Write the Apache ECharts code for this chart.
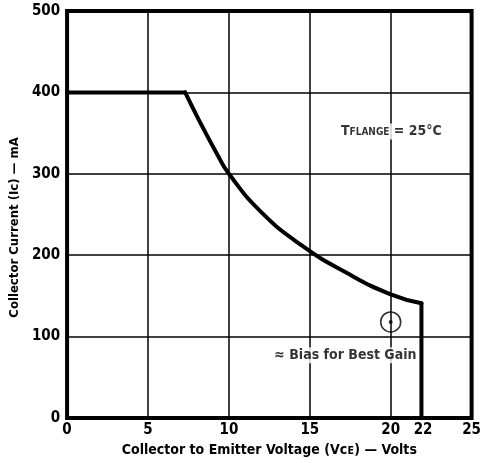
<!DOCTYPE html>
<html><head><meta charset="utf-8">
<script src="https://cdn.jsdelivr.net/npm/echarts@6/dist/echarts.min.js"></script>
<style>html,body{margin:0;padding:0;background:#fff}#c{width:484px;height:463px}</style>
</head><body><div id="c"></div>
<script>
// flat current limit, power-limited curve, voltage limit
const flatV = [0, 7.3];
const flatI = [400, 400];
const curveV = [7.3, 8.15, 9.25, 10, 12, 14.5, 17.3, 20, 21.9];
const curveI = [400, 366, 325, 300, 253, 212, 178, 152, 141];
const dropV = [21.9, 21.9];
const dropI = [141, 0];
const xTickLabels = [0, 5, 10, 15, 20, 22, 25];
const yTicks = [0, 100, 200, 300, 400, 500];
const biasV = [20];
const biasI = [118];
const noteBias = { v: 17.2, i: 77, text: '≈ Bias for Best Gain' };
const noteTemp = { v: 16.8, i: 352 };

const FONT = '"Liberation Sans Narrow", "DejaVu Sans Condensed", "Liberation Sans", sans-serif';
const pairs = (a, b) => a.map((v, k) => [v, b[k]]);
const lineSeries = (d, smooth) => ({ type: 'line', xAxisIndex: 0, data: d, showSymbol: false, smooth: smooth,
  lineStyle: { color: '#000', width: 4, cap: 'round', join: 'round' }, z: 5 });
const chart = echarts.init(document.getElementById('c'));
chart.setOption({
  backgroundColor: '#fff',
  animation: false,
  grid: { left: 67, right: 9, top: 11, bottom: 45, show: true, borderColor: '#000', borderWidth: 4, backgroundColor: 'transparent' },
  xAxis: [{
    type: 'value', min: 0, max: 25, interval: 5,
    axisLine: { show: false }, axisTick: { show: false }, axisLabel: { show: false },
    splitLine: { show: true, lineStyle: { color: '#000', width: 1.5 } },
    name: 'Collector to Emitter Voltage (Vᴄᴇ) — Volts', nameLocation: 'middle', nameGap: 25,
    nameTextStyle: { color: '#000', fontFamily: FONT, fontWeight: 'bold', fontSize: 14 }
  }, {
    type: 'value', min: 0, max: 25, interval: 1, position: 'bottom',
    axisLine: { show: false }, axisTick: { show: false }, splitLine: { show: false },
    axisLabel: { color: '#000', fontFamily: FONT, fontWeight: 'bold', fontSize: 15, margin: 5,
      formatter: v => xTickLabels.indexOf(v) >= 0 ? String(v) : '' }
  }],
  yAxis: {
    type: 'value', min: 0, max: 500, interval: 100,
    axisLine: { show: false }, axisTick: { show: false },
    splitLine: { show: true, lineStyle: { color: '#000', width: 1.5 } },
    axisLabel: { color: '#000', fontFamily: FONT, fontWeight: 'bold', fontSize: 15, margin: 7,
      formatter: v => yTicks.indexOf(v) >= 0 ? String(v) : '' },
    name: 'Collector Current (Ic) — mA', nameLocation: 'middle', nameGap: 40, nameRotate: 90,
    nameTextStyle: { color: '#000', fontFamily: FONT, fontWeight: 'bold', fontSize: 13, padding: [0, 26, 0, 0] }
  },
  series: [
    lineSeries(pairs(flatV, flatI), false),
    lineSeries(pairs(curveV, curveI), 0.5),
    lineSeries(pairs(dropV, dropI), false),
  {
    type: 'scatter', xAxisIndex: 0, data: pairs(biasV, biasI),
    symbol: 'circle', symbolSize: 20, itemStyle: { color: 'rgba(0,0,0,0)', borderColor: '#000', borderWidth: 1.6 }, z: 6
  }, {
    type: 'scatter', xAxisIndex: 0, data: pairs(biasV, biasI),
    symbol: 'circle', symbolSize: 4, itemStyle: { color: '#000' }, z: 7
  }, {
    type: 'scatter', xAxisIndex: 0, symbolSize: 0, data: [[noteBias.v, noteBias.i]], z: 8,
    label: { show: true, position: 'inside', formatter: noteBias.text, color: '#000', fontFamily: FONT, fontWeight: 'bold', fontSize: 14, backgroundColor: '#fff', padding: [1, 2] }
  }, {
    type: 'scatter', xAxisIndex: 0, symbolSize: 0, data: [[noteTemp.v, noteTemp.i]], z: 8,
    label: { show: true, position: 'right', distance: 0, formatter: '{a|T}{b|FLANGE}{c| = 25°C}',
      backgroundColor: '#fff', padding: [1, 2],
      rich: {
        a: { color: '#000', fontFamily: FONT, fontWeight: 'bold', fontSize: 14 },
        b: { color: '#000', fontFamily: FONT, fontWeight: 'bold', fontSize: 10, verticalAlign: 'bottom', padding: [0, 0, 1, 0] },
        c: { color: '#000', fontFamily: FONT, fontWeight: 'bold', fontSize: 14 }
      } }
  }]
});
</script></body></html>
